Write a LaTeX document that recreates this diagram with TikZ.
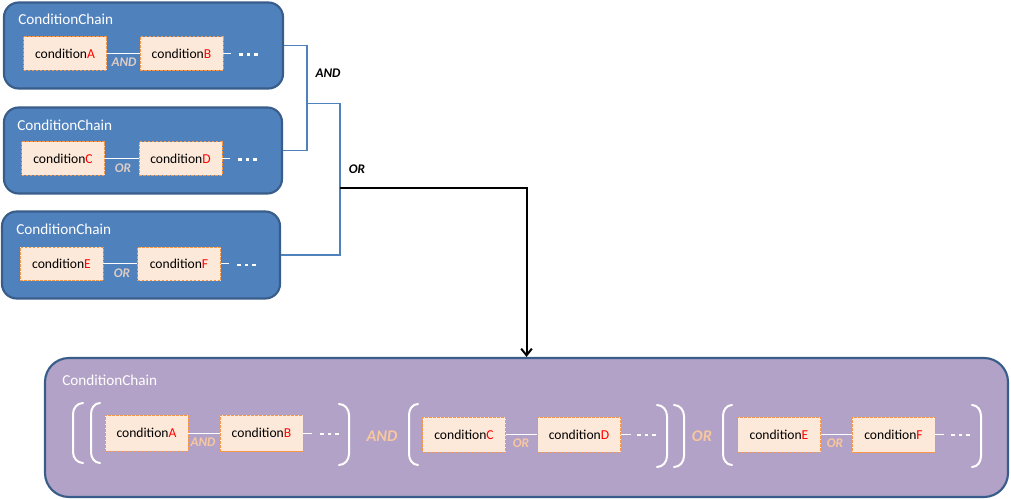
\documentclass[tikz,border=0pt]{standalone}
\usepackage{fontspec}
\setmainfont{Carlito}
\usetikzlibrary{arrows.meta}
\definecolor{chainblue}{HTML}{4F81BD}
\definecolor{chainborder}{HTML}{385D8A}
\definecolor{chainpurple}{HTML}{B3A2C7}
\definecolor{boxfill}{HTML}{FDE9D9}
\definecolor{boxborder}{HTML}{F79646}
\definecolor{redletter}{HTML}{FF0000}
\definecolor{toplabel}{HTML}{DCCCC4}
\definecolor{botlabel}{HTML}{F8C79E}
\tikzset{
  chainbox/.style={draw=chainborder, line width=1.6pt, fill=chainblue, rounded corners=11pt, inner sep=0pt},
  bigchain/.style={draw=chainborder, line width=1.6pt, fill=chainpurple, rounded corners=18pt, inner sep=0pt},
  condbox/.style={draw=boxborder, fill=boxfill, dash pattern=on 2pt off 1pt, line width=0.7pt,
    minimum width=62.25pt, minimum height=25pt, inner sep=0pt, font=\fontsize{10.2}{12}\selectfont},
  title/.style={anchor=west, text=white, inner sep=0pt, font=\fontsize{11.4}{13}\selectfont},
  oplabel/.style={text=toplabel, inner sep=0pt, font=\fontsize{9.9}{11}\selectfont\bfseries\itshape},
  botop/.style={text=botlabel, inner sep=0pt, font=\fontsize{9.9}{11}\selectfont\bfseries\itshape},
  bigop/.style={text=botlabel, inner sep=0pt, font=\fontsize{12.2}{14}\selectfont\bfseries\itshape},
  blackop/.style={text=black, inner sep=0pt, font=\fontsize{9.9}{11}\selectfont\bfseries\itshape},
  link/.style={draw=white, line width=0.75pt},
  bracket/.style={draw=white, line width=1.5pt, line cap=round},
  bluewire/.style={draw=chainblue, line width=0.8pt},
  blackwire/.style={draw=black, line width=1.5pt},
}
\newcommand{\cond}[1]{condition\textcolor{redletter}{#1}}
\newcommand{\tdots}[2]{\foreach \dx in {0,7.5,15}{\fill[white] ({#1+\dx-1.6},{#2-1.4}) rectangle ({#1+\dx+1.6},{#2+1.4});}}
\newcommand{\lbr}[4]{\draw[bracket] (#2,#3) to[out=180,in=90] (#1,{#3+11}) -- (#1,{#4-11}) to[out=-90,in=180] (#2,#4);}
\newcommand{\rbr}[4]{\draw[bracket] (#1,#3) to[out=0,in=90] (#2,{#3+11}) -- (#2,{#4-11}) to[out=-90,in=0] (#1,#4);}
\begin{document}
\begin{tikzpicture}[x=0.75pt,y=-0.75pt]
\useasboundingbox (0,0) rectangle (1011,499);

% ---------- top chains ----------
\node[chainbox, minimum width=209.25pt, minimum height=64.5pt] (c1) at (143.5,45.5) {};
\node[chainbox, minimum width=208.5pt, minimum height=64.5pt] (c2) at (143,150.5) {};
\node[chainbox, minimum width=208.5pt, minimum height=65.25pt] (c3) at (141,255) {};

\node[title] (t1) at (18,19) {ConditionChain};
\node[title] (t2) at (17,125) {ConditionChain};
\node[title] (t3) at (16,229) {ConditionChain};

\node[condbox] (a1) at (65,53.5) {\cond{A}};
\node[condbox] (b1) at (181.5,53.5) {\cond{B}};
\node[condbox] (cc2) at (63,158.5) {\cond{C}};
\node[condbox] (d2) at (180.5,158.5) {\cond{D}};
\node[condbox] (e3) at (61.5,264) {\cond{E}};
\node[condbox] (f3) at (179,264) {\cond{F}};

\draw[link] (a1.east) -- (b1.west);
\draw[link] (cc2.east) -- (d2.west);
\draw[link] (e3.east) -- (f3.west);
\draw[link] (b1.east) -- ++(8,0);
\draw[link] (d2.east) -- ++(8,0);
\draw[link] (f3.east) -- ++(8,0);
\tdots{241}{54.5}
\tdots{240}{159.5}
\tdots{239}{265}

\node[oplabel] (l1) at (124,62) {AND};
\node[oplabel] (l2) at (123,168) {OR};
\node[oplabel] (l3) at (122,273) {OR};

% ---------- connectors ----------
\coordinate (j1) at (307,103.5);
\coordinate (j2) at (340,103.5);
\coordinate (j3) at (340,188);
\draw[bluewire] (c1.east) -| (j1) |- (c2.east);
\draw[bluewire] (j1) -- (j2) |- (c3.east);
\node[blackop] (andl) at (328,73) {AND};
\node[blackop] (orl) at (357,169) {OR};

% ---------- bottom chain ----------
\node[bigchain, minimum width=722.25pt, minimum height=104.25pt] (big) at (526.5,427.5) {};
\draw[blackwire, -{Straight Barb[length=5pt,width=8pt]}] (j3) -| (big.north);
\node[title] (t4) at (62,380) {ConditionChain};

\node[condbox, minimum height=27pt] (ba) at (146.5,433) {\cond{A}};
\node[condbox, minimum height=27pt] (bb) at (261.5,433) {\cond{B}};
\node[condbox, minimum height=26.25pt] (bc) at (464,434.5) {\cond{C}};
\node[condbox, minimum height=26.25pt] (bd) at (579,434.5) {\cond{D}};
\node[condbox, minimum height=26.25pt] (be) at (779,434.5) {\cond{E}};
\node[condbox, minimum height=26.25pt] (bf) at (893.5,434.5) {\cond{F}};

\draw[link] (ba.east) -- (bb.west);
\draw[link] (bc.east) -- (bd.west);
\draw[link] (be.east) -- (bf.west);
\draw[link] (bb.east) -- ++(9,0);
\draw[link] (bd.east) -- ++(10,0);
\draw[link] (bf.east) -- ++(9,0);
\tdots{322}{434}
\tdots{639}{435}
\tdots{953}{435}

\node[botop] (bl1) at (203,442) {AND};
\node[botop] (bl2) at (521,443) {OR};
\node[botop] (bl3) at (835,443) {OR};
\node[bigop] (bigand) at (382,436) {AND};
\node[bigop] (bigor) at (702,436) {OR};

\lbr{73}{83}{403}{463}
\lbr{91}{100}{403}{463}
\rbr{339}{349}{404}{465}
\lbr{409}{418}{404}{465}
\rbr{657}{667}{405}{467}
\rbr{674}{684}{405}{467}
\lbr{723}{732}{405}{465}
\rbr{972}{981}{405}{467}
\end{tikzpicture}
\end{document}
